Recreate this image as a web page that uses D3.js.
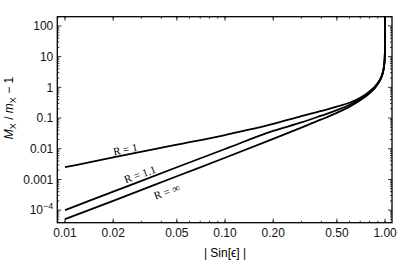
<!DOCTYPE html>
<html>
<head>
<meta charset="utf-8">
<script src="https://cdn.jsdelivr.net/npm/d3@7"></script>
<style>
    body { margin: 0; background: #fff; }
    text { font-family: "Liberation Sans", Arial, sans-serif; }
    .curve-label { font-family: "Liberation Serif", "Times New Roman", serif; font-size: 11px; }
</style>
</head>
<body>
<div id="chart-container"></div>
<script>
// |Sin[eps]| sample points
const sinEps = [0.01, 0.02, 0.05, 0.1, 0.2, 0.3, 0.4, 0.5, 0.6, 0.7, 0.8, 0.9, 0.95, 0.97, 0.98, 0.99, 0.995, 0.999, 0.9999, 0.99999];
// M_X / m_X - 1 for each R
const massR1   = [0.0025, 0.0052, 0.0136, 0.028, 0.064, 0.115, 0.17, 0.235, 0.315, 0.46, 0.74, 1.38, 2.3, 3.2, 4.1, 6.2, 9.0, 21, 70, 220];
const massR11  = [1.0e-4, 4.0e-4, 2.5e-3, 0.0098, 0.038, 0.072, 0.12, 0.18, 0.27, 0.42, 0.69, 1.32, 2.2, 3.1, 4.0, 6.1, 8.9, 21, 70, 220];
const massRinf = [5.1e-5, 2.0e-4, 1.27e-3, 5.1e-3, 0.021, 0.049, 0.09, 0.148, 0.235, 0.38, 0.64, 1.27, 2.15, 3.05, 4.0, 6.1, 8.9, 21, 70, 220];

const seriesNames = ["R = 1", "R = 1.1", "R = \u221e"];

const xTicks = [0.01, 0.02, 0.05, 0.1, 0.2, 0.5, 1];
const xTickLabels = ["0.01", "0.02", "0.05", "0.10", "0.20", "0.50", "1.00"];
const yTicks = [1e-4, 1e-3, 0.01, 0.1, 1, 10, 100];
const yTickLabels = ["10^-4", "0.001", "0.01", "0.1", "1", "10", "100"];

const svgW = 399;
const svgH = 260;
const plotL = 57.3, plotR = 392, plotT = 16.7, plotB = 222.7;

const xScale = d3.scaleLog()
    .domain([0.00895, 1.105])
    .range([plotL, plotR]);

const yScale = d3.scaleLog()
    .domain([3.9e-5, 200])
    .range([plotB, plotT]);

const svg = d3.select("#chart-container")
    .append("svg")
    .attr("width", svgW)
    .attr("height", svgH);

svg.append("defs")
    .append("clipPath")
    .attr("id", "plot-clip")
    .append("rect")
    .attr("x", plotL)
    .attr("y", plotT)
    .attr("width", plotR - plotL)
    .attr("height", plotB - plotT);

// minor ticks: every 1..9 step in each decade
const xMinor = [];
[0.001, 0.01, 0.1, 1].forEach(dec => {
    for (let k = 1; k < 10; k++) {
        const v = dec * k;
        if (v >= 0.00895 && v <= 1.105) xMinor.push(v);
    }
});
const yMinor = [];
[1e-5, 1e-4, 1e-3, 0.01, 0.1, 1, 10, 100].forEach(dec => {
    for (let k = 2; k < 10; k++) {
        const v = dec * k;
        if (v >= 3.9e-5 && v <= 200) yMinor.push(v);
    }
});

const ticks = svg.append("g").attr("stroke", "#000").attr("stroke-width", 0.8);

// bottom + top (mirrored) ticks, pointing inward
[[plotB, -1], [plotT, 1]].forEach(([yy, dir]) => {
    ticks.selectAll(null)
        .data(xMinor)
        .enter()
        .append("line")
        .attr("x1", d => xScale(d)).attr("x2", d => xScale(d))
        .attr("y1", yy).attr("y2", yy + dir * 2);
    ticks.selectAll(null)
        .data(xTicks)
        .enter()
        .append("line")
        .attr("x1", d => xScale(d)).attr("x2", d => xScale(d))
        .attr("y1", yy).attr("y2", yy + dir * 4);
});

// left + right ticks
[[plotL, 1], [plotR, -1]].forEach(([xx, dir]) => {
    ticks.selectAll(null)
        .data(yMinor)
        .enter()
        .append("line")
        .attr("y1", d => yScale(d)).attr("y2", d => yScale(d))
        .attr("x1", xx).attr("x2", xx + dir * 2);
    ticks.selectAll(null)
        .data(yTicks)
        .enter()
        .append("line")
        .attr("y1", d => yScale(d)).attr("y2", d => yScale(d))
        .attr("x1", xx).attr("x2", xx + dir * 4);
});

// frame
svg.append("rect")
    .attr("x", plotL)
    .attr("y", plotT)
    .attr("width", plotR - plotL)
    .attr("height", plotB - plotT)
    .attr("fill", "none")
    .attr("stroke", "#000")
    .attr("stroke-width", 1.3);

// tick labels
svg.append("g")
    .selectAll("text")
    .data(xTicks)
    .enter()
    .append("text")
    .text((d, i) => xTickLabels[i])
    .attr("x", d => xScale(d))
    .attr("y", plotB + 14)
    .style("text-anchor", "middle")
    .style("font-size", "12px")
    .attr("fill", "#111");

const yLabels = svg.append("g")
    .selectAll("text")
    .data(yTicks)
    .enter()
    .append("text")
    .attr("x", plotL - 4)
    .attr("y", d => yScale(d) + 4.3)
    .style("text-anchor", "end")
    .style("font-size", "12px")
    .attr("fill", "#111");

yLabels.each(function (d, i) {
    const lbl = yTickLabels[i];
    const t = d3.select(this);
    if (lbl.includes("^")) {
        const [base, exp] = lbl.split("^");
        t.append("tspan").text(base);
        t.append("tspan").text(exp.replace("-", "\u2212"))
            .attr("dy", -5)
            .style("font-size", "9px");
    } else {
        t.text(lbl);
    }
});

// curves
const line = d3.line()
    .x(d => xScale(d[0]))
    .y(d => yScale(d[1]))
    .curve(d3.curveMonotoneX);

const curves = [massR1, massR11, massRinf];

svg.append("g")
    .attr("clip-path", "url(#plot-clip)")
    .selectAll("path")
    .data(curves)
    .enter()
    .append("path")
    .attr("d", vals => line(sinEps.map((s, i) => [s, vals[i]])))
    .attr("fill", "none")
    .attr("stroke", "#000")
    .attr("stroke-width", 1.8);

// curve labels placed along each line
const labelPos = [
    { s: 0.0238, m: 0.0061, dy: -6, ang: -11 },
    { s: 0.0294, m: 0.00087, dy: -7, ang: -20 },
    { s: 0.0433, m: 0.00095, dy: 11.5, ang: -20 }
];

svg.append("g")
    .selectAll("text")
    .data(labelPos)
    .enter()
    .append("text")
    .attr("class", "curve-label")
    .text((d, i) => seriesNames[i])
    .attr("transform", d => `translate(${xScale(d.s)}, ${yScale(d.m) + d.dy}) rotate(${d.ang})`)
    .style("text-anchor", "middle")
    .attr("dy", "0.35em");

// axis titles
svg.append("text")
    .attr("x", 225)
    .attr("y", 257)
    .style("text-anchor", "middle")
    .style("font-size", "12px")
    .text("| Sin[\u03f5] |");

const yTitle = svg.append("text")
    .attr("transform", `translate(13, 108) rotate(-90)`)
    .style("text-anchor", "middle")
    .style("font-size", "12px");
yTitle.append("tspan").text("M").style("font-style", "italic");
yTitle.append("tspan").text("X").attr("dy", 3).style("font-size", "9px");
yTitle.append("tspan").text(" / ").attr("dy", -3);
yTitle.append("tspan").text("m").style("font-style", "italic");
yTitle.append("tspan").text("X").attr("dy", 3).style("font-size", "9px");
yTitle.append("tspan").text(" \u2212 1").attr("dy", -3);
</script>
</body>
</html>
